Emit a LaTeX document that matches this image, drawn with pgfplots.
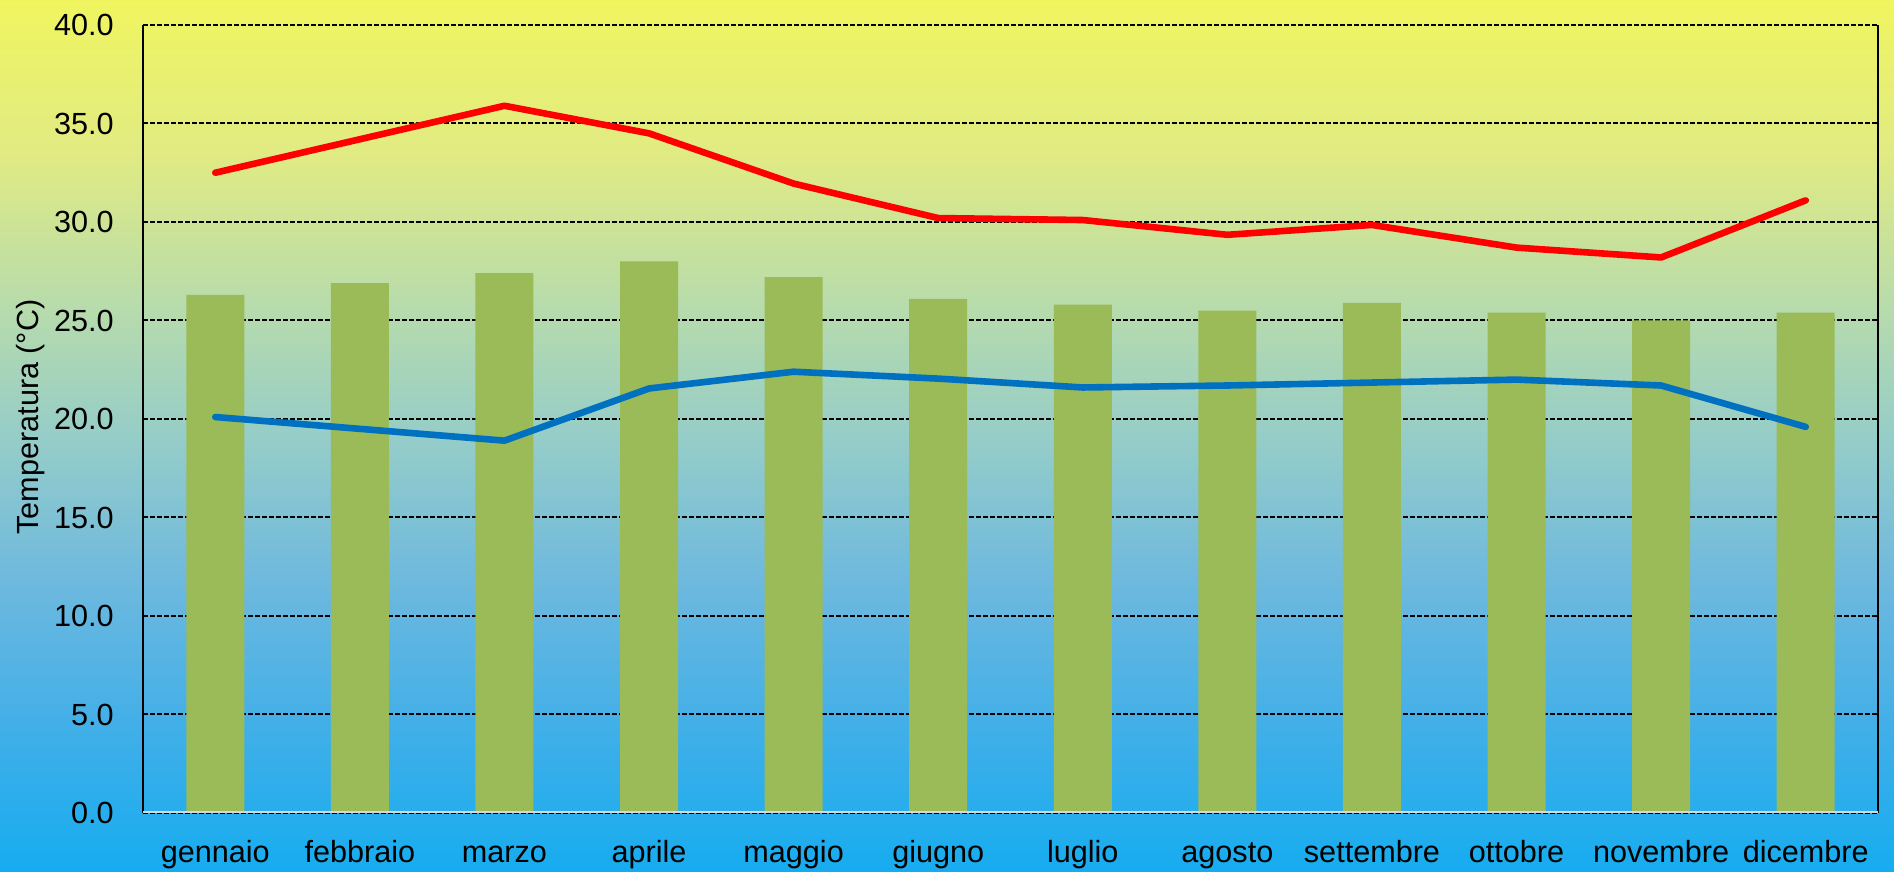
\documentclass[border=0pt]{standalone}
\usepackage{fontspec}
\setmainfont{Liberation Sans}
\usepackage{pgfplots}
\pgfplotsset{compat=1.18}
\definecolor{bargreen}{RGB}{155,187,89}
\definecolor{lred}{RGB}{255,0,0}
\definecolor{lblue}{RGB}{0,112,192}
\definecolor{axgray}{RGB}{217,217,217}
\pgfdeclareverticalshading{bgshade}{100bp}{%
  rgb(0bp)=(0.086,0.675,0.941);
  rgb(25bp)=(0.086,0.675,0.941);
  rgb(33.3bp)=(0.255,0.686,0.910);
  rgb(41.7bp)=(0.431,0.725,0.871);
  rgb(50bp)=(0.588,0.804,0.784);
  rgb(57.8bp)=(0.725,0.863,0.667);
  rgb(66.4bp)=(0.882,0.922,0.510);
  rgb(75bp)=(0.941,0.961,0.373);
  rgb(100bp)=(0.941,0.961,0.373)}
\begin{document}
\fontsize{15.3}{18}\selectfont
\begin{tikzpicture}
\shade[shading=bgshade] (0,0) rectangle (947pt,436pt);
\begin{axis}[
  at={(71.5pt,29.5pt)}, anchor=south west,
  scale only axis, width=867.5pt, height=394pt,
  xmin=-0.5, xmax=11.5, ymin=0, ymax=40,
  xtick={0,1,2,3,4,5,6,7,8,9,10,11},
  xticklabels={gennaio,febbraio,marzo,aprile,maggio,giugno,luglio,agosto,settembre,ottobre,novembre,dicembre},
  ytick={0,5,10,15,20,25,30,35,40},
  major tick length=0pt,
  ymajorgrids,
  grid style={black, line width=1pt, dash pattern=on 2.4pt off 1.1pt},
  separate axis lines,
  axis line style={black, line width=1pt},
  x axis line style={draw=none},
  tick label style={font=\fontsize{15.3}{18}\selectfont},
  xticklabel style={anchor=base, yshift=-24.5pt},
  yticklabel style={anchor=east, inner sep=0pt, xshift=-14.5pt},
  /pgf/number format/.cd, fixed, fixed zerofill, precision=1, assume math mode=true,
]
\addplot[ybar, bar width=29pt, fill=bargreen, draw=none] coordinates {
  (0,26.3) (1,26.9) (2,27.4) (3,28.0) (4,27.2) (5,26.1)
  (6,25.8) (7,25.5) (8,25.9) (9,25.4) (10,25.0) (11,25.4)};
\addplot[lred, line width=3.3pt, line cap=round, line join=round, mark=none] coordinates {
  (0,32.5) (1,34.2) (2,35.9) (3,34.5) (4,31.95) (5,30.2)
  (6,30.1) (7,29.35) (8,29.85) (9,28.7) (10,28.2) (11,31.1)};
\addplot[lblue, line width=3.3pt, line cap=round, line join=round, mark=none] coordinates {
  (0,20.1) (1,19.5) (2,18.9) (3,21.55) (4,22.4) (5,22.05)
  (6,21.6) (7,21.7) (8,21.85) (9,22.0) (10,21.7) (11,19.6)};
\draw[axgray, line width=1.5pt] (rel axis cs:0,0) -- (rel axis cs:1,0);
\end{axis}
\node[rotate=90, anchor=base, inner sep=0pt] at (19pt,227.5pt) {Temperatura (°C)};
\pgfresetboundingbox
\useasboundingbox (0,0) rectangle (947pt,436pt);
\end{tikzpicture}
\end{document}
